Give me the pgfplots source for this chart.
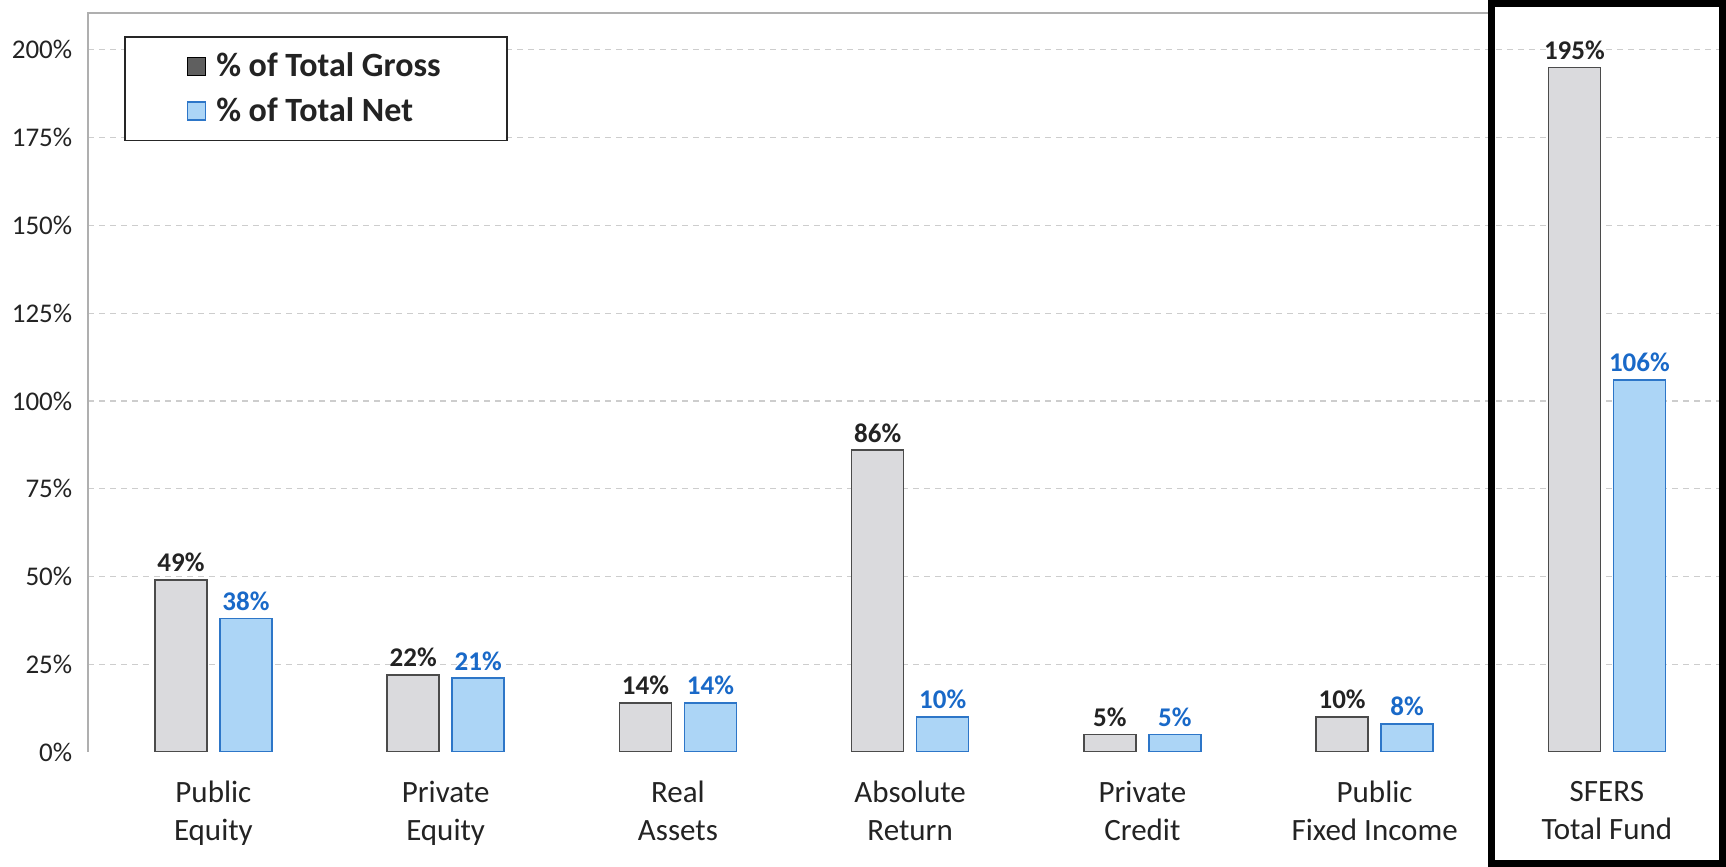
\documentclass[border=0pt]{standalone}
\usepackage{pgfplots}
\pgfplotsset{compat=1.18}
\usepackage{fontspec}
\setmainfont{Carlito}
\definecolor{grossfill}{RGB}{218,218,221}
\definecolor{grossdraw}{RGB}{75,75,75}
\definecolor{netfill}{RGB}{172,213,246}
\definecolor{netdraw}{RGB}{45,118,200}
\definecolor{netlabel}{RGB}{25,105,200}
\definecolor{gridc}{RGB}{205,205,205}
\definecolor{textc}{RGB}{35,35,35}
\definecolor{linec}{RGB}{175,175,175}
\definecolor{legdark}{RGB}{95,95,95}
\begin{document}
\begin{tikzpicture}[x=1pt,y=1pt]
\useasboundingbox (-44,-57.5) rectangle (819,376);
\begin{axis}[
  at={(0,0)}, anchor=south west, scale only axis,
  width=817.5pt, height=369.5pt,
  xmin=-0.54, xmax=6.5, ymin=0, ymax=210.5,
  ybar=6.5pt, bar width=26pt,
  xtick={0,1,2,3,4,5,6},
  xticklabels={Public\\Equity, Private\\Equity, Real\\Assets, Absolute\\Return, Private\\Credit, Public\\Fixed Income, SFERS\\Total Fund},
  xticklabel style={align=center, font=\fontsize{15.5}{19}\selectfont, text=textc, inner sep=0pt, yshift=-14.5pt},
  ytick={0,25,50,75,100,125,150,175,200},
  yticklabels={0\%,25\%,50\%,75\%,100\%,125\%,150\%,175\%,200\%},
  yticklabel style={font=\fontsize{13.5}{16}\selectfont, text=textc, inner sep=0pt, xshift=-7.7pt},
  major tick length=0pt,
  grid=none,
  axis line style={draw=none},
  nodes near coords={\pgfmathprintnumber[fixed,precision=0,assume math mode=true]{\pgfplotspointmeta}\%},
  every node near coord/.append style={font=\bfseries\fontsize{13.5}{16}\selectfont, inner sep=3.5pt},
  legend cell align=left,
  legend style={at={(0.022,0.969)}, anchor=north west, draw=black!85, line width=0.9pt, fill=white,
    inner xsep=31pt, inner ysep=6pt, font=\bfseries\fontsize{17}{20}\selectfont, text=textc, row sep=5pt},
  extra y ticks={25,50,75,100,125,150,175,200},
  extra y tick labels={},
  extra y tick style={ymajorgrids, grid style={gridc, dash pattern=on 3pt off 2.5pt, line width=0.6pt}},
]
\addplot[fill=grossfill, draw=grossdraw, line width=0.8pt,
  every node near coord/.append style={text=textc},
  legend image code/.code={\draw[fill=legdark, draw=black, line width=0.6pt] (0pt,-4.5pt) rectangle (9pt,4.5pt); \path (12pt,0pt);}]
  coordinates {(0,49) (1,22) (2,14) (3,86) (4,5) (5,10) (6,195)};
\addlegendentry{\% of Total Gross}
\addplot[fill=netfill, draw=netdraw, line width=0.8pt,
  every node near coord/.append style={text=netlabel},
  legend image code/.code={\draw[fill=netfill, draw=netdraw, line width=0.6pt] (0pt,-4.5pt) rectangle (9pt,4.5pt); \path (12pt,0pt);}]
  coordinates {(0,38) (1,21) (2,14) (3,10) (4,5) (5,8) (6,106)};
\addlegendentry{\% of Total Net}
\end{axis}
\draw[linec, line width=0.8pt] (0,0) -- (0,369.5) -- (701,369.5);
\draw[black, line width=3.5pt] (701.75,-55.75) rectangle (817.25,374.25);
\end{tikzpicture}
\end{document}
